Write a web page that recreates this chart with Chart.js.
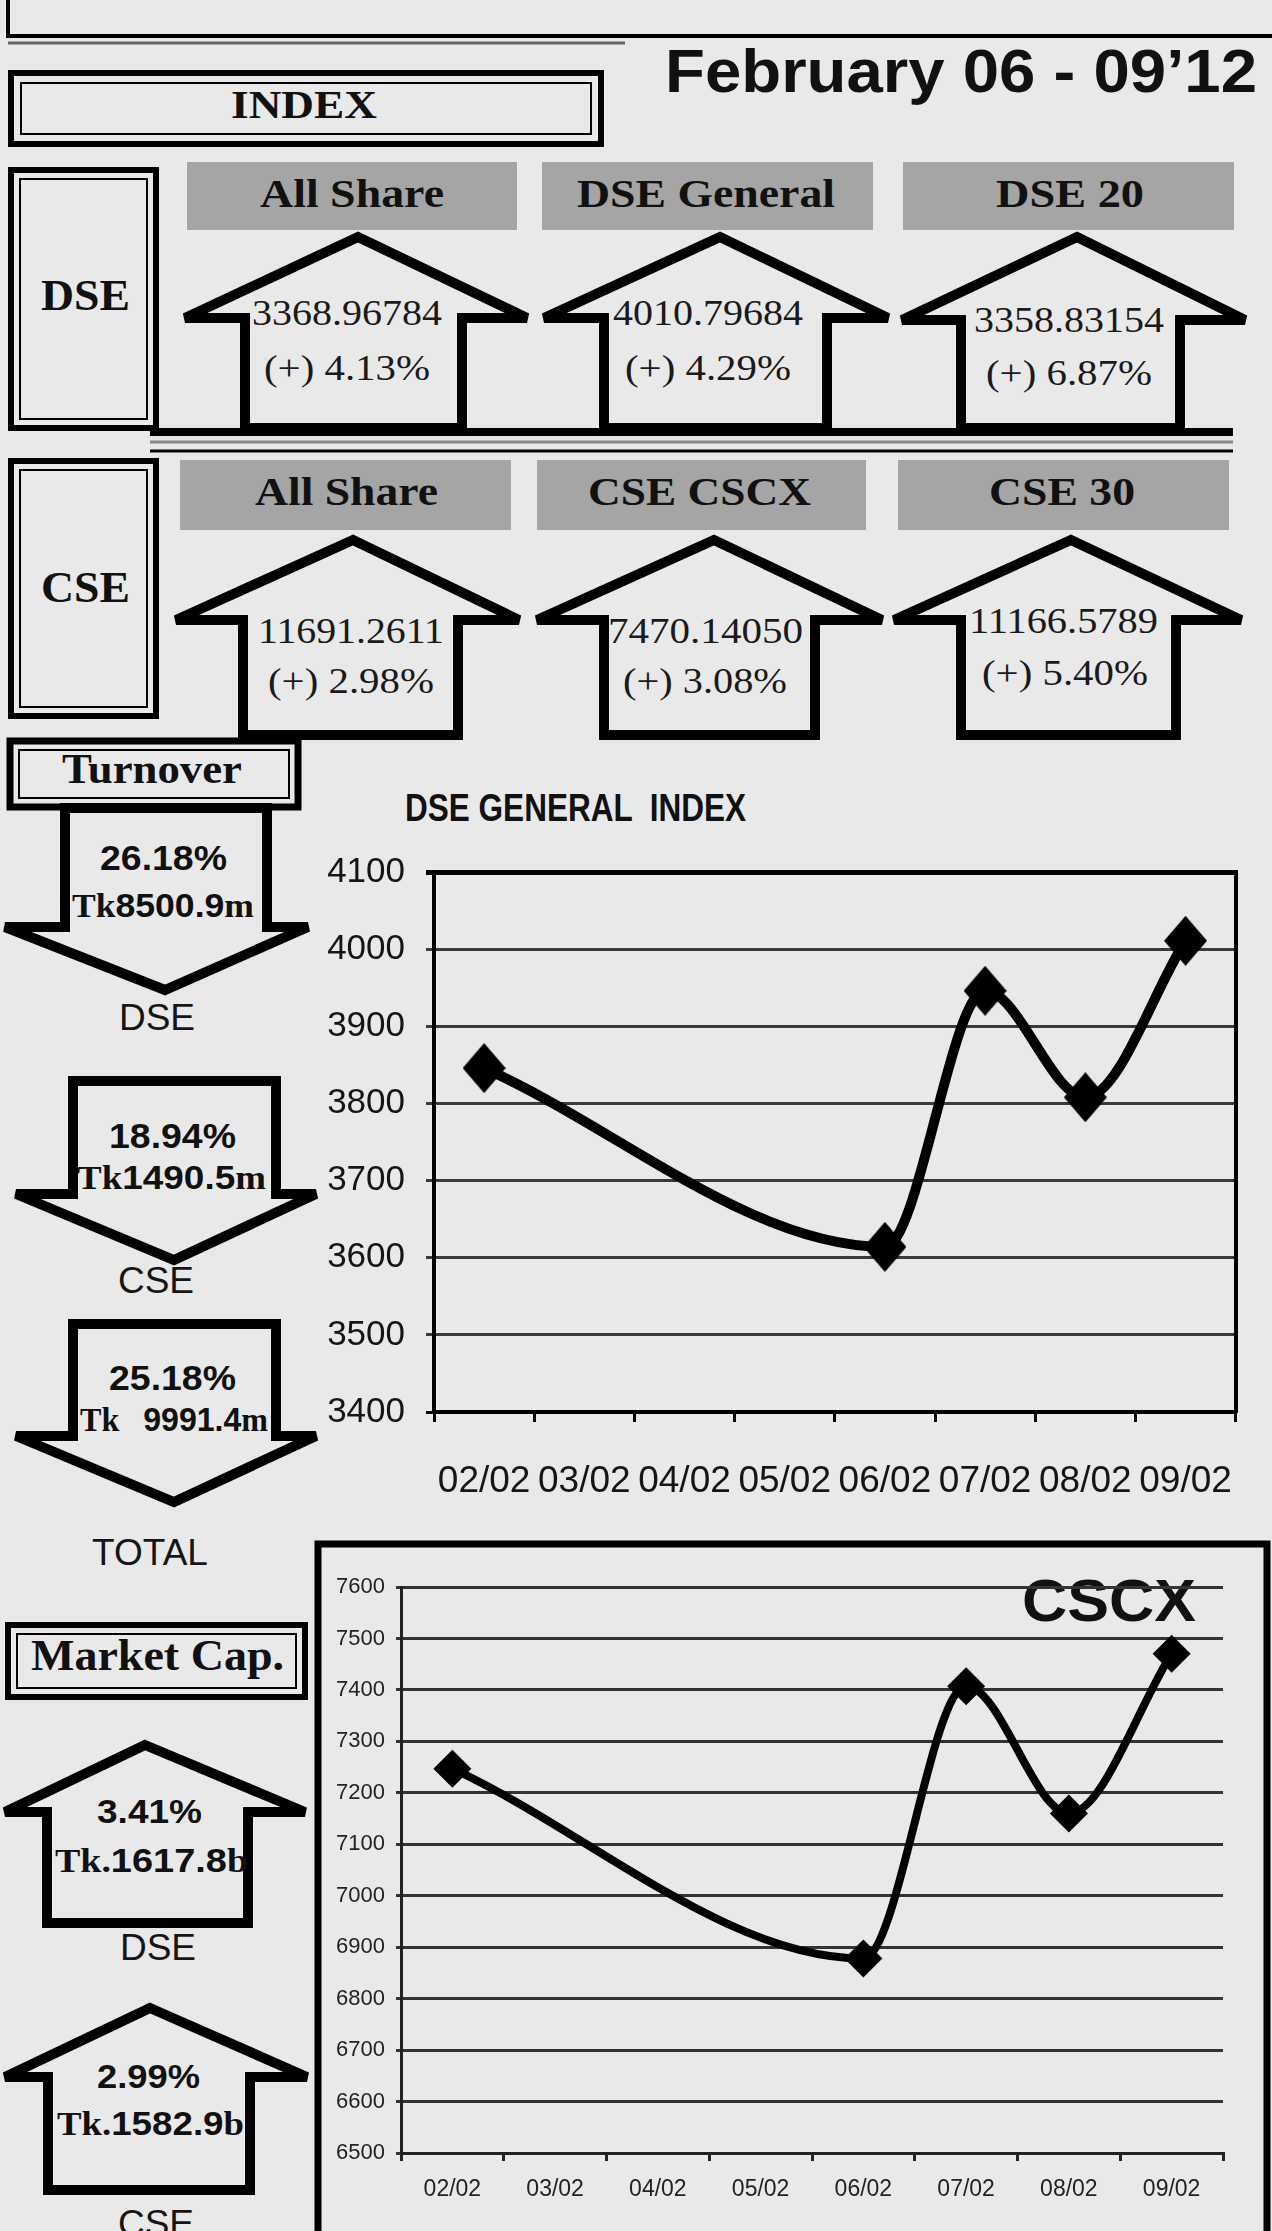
<!DOCTYPE html>
<html>
<head>
<meta charset="utf-8">
<script src="https://cdn.jsdelivr.net/npm/chart.js@4.4.1/dist/chart.umd.min.js"></script>
<style>
  html, body { margin: 0; padding: 0; background: #e9e9e9; }
  #page { position: relative; width: 1272px; height: 2231px; overflow: hidden; background: #e9e9e9; }
  svg { position: absolute; left: 0; top: 0; }
  .tb { font-family: 'Liberation Serif', 'Times New Roman', serif; font-weight: bold; fill: #111; }
  .tr { font-family: 'Liberation Serif', 'Times New Roman', serif; fill: #1a1a1a; }
  .sb { font-family: 'Liberation Sans', Arial, sans-serif; font-weight: bold; fill: #111; }
  .sr { font-family: 'Liberation Sans', Arial, sans-serif; fill: #151515; }
  .pre { white-space: pre; }
  #dseBox { position: absolute; left: 300px; top: 830px; }
  #cscxBox { position: absolute; left: 322px; top: 1550px; }
</style>
</head>
<body>
<div id="page">
<svg width="1272" height="2231">
  <g fill="none" stroke="#000">
    <!-- top frame -->
    <path d="M8,-10 V36 H1290" stroke-width="4"/>
    <path d="M8,43 H625" stroke-width="3" stroke="#666"/>
    <!-- INDEX box -->
    <rect x="11" y="73" width="590" height="71" stroke-width="6"/>
    <rect x="21" y="83" width="570" height="51" stroke-width="2"/>
    <!-- DSE / CSE boxes -->
    <rect x="11" y="170" width="145" height="258" stroke-width="6"/>
    <rect x="20" y="179" width="127" height="240" stroke-width="2"/>
    <rect x="11" y="461" width="145" height="255" stroke-width="6"/>
    <rect x="20" y="470" width="127" height="237" stroke-width="2"/>
    <!-- separator between DSE and CSE rows -->
    <path d="M150,432 H1233" stroke-width="8"/>
    <path d="M150,442 H1233" stroke-width="3" stroke="#888"/>
    <path d="M150,451 H1233" stroke-width="3"/>
    <!-- Turnover box -->
    <rect x="10" y="741" width="288" height="66" stroke-width="7"/>
    <rect x="19" y="750" width="270" height="48" stroke-width="2"/>
    <!-- Market Cap box -->
    <rect x="8" y="1625" width="297" height="72" stroke-width="6"/>
    <rect x="17" y="1634" width="279" height="54" stroke-width="2"/>
    <!-- CSCX frame -->
    <path d="M318,2250 V1544 H1267 V2250" stroke-width="7"/>
  </g>
  <g fill="#a5a5a5">
    <rect x="187" y="162" width="330" height="68"/>
    <rect x="542" y="162" width="331" height="68"/>
    <rect x="903" y="162" width="331" height="68"/>
    <rect x="180" y="460" width="331" height="70"/>
    <rect x="537" y="460" width="329" height="70"/>
    <rect x="898" y="460" width="331" height="70"/>
  </g>
  <g id="arrows" fill="none" stroke="#000" stroke-width="10" stroke-linejoin="miter" stroke-miterlimit="2"></g>

  <text x="665" y="92" class="sb" font-size="62" textLength="592" lengthAdjust="spacingAndGlyphs">February 06 - 09’12</text>
  <text x="231" y="118" class="tb" font-size="41" textLength="146" lengthAdjust="spacingAndGlyphs">INDEX</text>
  <text x="41" y="310" class="tb" font-size="45" textLength="89" lengthAdjust="spacingAndGlyphs">DSE</text>
  <text x="41" y="602" class="tb" font-size="45" textLength="89" lengthAdjust="spacingAndGlyphs">CSE</text>

  <text x="260" y="207" class="tb" font-size="41" textLength="184" lengthAdjust="spacingAndGlyphs">All Share</text>
  <text x="577" y="207" class="tb" font-size="41" textLength="258" lengthAdjust="spacingAndGlyphs">DSE General</text>
  <text x="996" y="207" class="tb" font-size="41" textLength="148" lengthAdjust="spacingAndGlyphs">DSE 20</text>
  <text x="255" y="505" class="tb" font-size="41" textLength="183" lengthAdjust="spacingAndGlyphs">All Share</text>
  <text x="588" y="505" class="tb" font-size="41" textLength="223" lengthAdjust="spacingAndGlyphs">CSE CSCX</text>
  <text x="989" y="505" class="tb" font-size="41" textLength="146" lengthAdjust="spacingAndGlyphs">CSE 30</text>

  <text x="252" y="325" class="tr" font-size="36" textLength="190" lengthAdjust="spacingAndGlyphs">3368.96784</text>
  <text x="264" y="380" class="tr" font-size="36" textLength="166" lengthAdjust="spacingAndGlyphs">(+) 4.13%</text>
  <text x="613" y="325" class="tr" font-size="36" textLength="190" lengthAdjust="spacingAndGlyphs">4010.79684</text>
  <text x="625" y="380" class="tr" font-size="36" textLength="166" lengthAdjust="spacingAndGlyphs">(+) 4.29%</text>
  <text x="974" y="332" class="tr" font-size="36" textLength="190" lengthAdjust="spacingAndGlyphs">3358.83154</text>
  <text x="986" y="385" class="tr" font-size="36" textLength="166" lengthAdjust="spacingAndGlyphs">(+) 6.87%</text>

  <text x="258" y="643" class="tr" font-size="36" textLength="186" lengthAdjust="spacingAndGlyphs">11691.2611</text>
  <text x="268" y="693" class="tr" font-size="36" textLength="166" lengthAdjust="spacingAndGlyphs">(+) 2.98%</text>
  <text x="608" y="643" class="tr" font-size="36" textLength="195" lengthAdjust="spacingAndGlyphs">7470.14050</text>
  <text x="623" y="693" class="tr" font-size="36" textLength="164" lengthAdjust="spacingAndGlyphs">(+) 3.08%</text>
  <text x="969" y="633" class="tr" font-size="36" textLength="189" lengthAdjust="spacingAndGlyphs">11166.5789</text>
  <text x="982" y="685" class="tr" font-size="36" textLength="166" lengthAdjust="spacingAndGlyphs">(+) 5.40%</text>

  <text x="62" y="783" class="tb" font-size="43" textLength="180" lengthAdjust="spacingAndGlyphs">Turnover</text>
  <text x="100" y="870" class="sb" font-size="35" textLength="127" lengthAdjust="spacingAndGlyphs">26.18%</text>
  <text x="72" y="917" font-size="33" textLength="182" lengthAdjust="spacingAndGlyphs"><tspan class="tb">Tk</tspan><tspan class="sb">8500.9</tspan><tspan class="tb">m</tspan></text>
  <text x="157" y="1030" class="sr" font-size="37" text-anchor="middle">DSE</text>

  <text x="109" y="1148" class="sb" font-size="35" textLength="127" lengthAdjust="spacingAndGlyphs">18.94%</text>
  <text x="77" y="1189" font-size="33" textLength="189" lengthAdjust="spacingAndGlyphs"><tspan class="tb">Tk</tspan><tspan class="sb">1490.5</tspan><tspan class="tb">m</tspan></text>
  <text x="156" y="1293" class="sr" font-size="37" text-anchor="middle">CSE</text>

  <text x="109" y="1390" class="sb" font-size="35" textLength="127" lengthAdjust="spacingAndGlyphs">25.18%</text>
  <text x="80" y="1431" font-size="33" textLength="188" lengthAdjust="spacingAndGlyphs" class="pre"><tspan class="tb">Tk   </tspan><tspan class="sb">9991.4</tspan><tspan class="tb">m</tspan></text>
  <text x="150" y="1565" class="sr" font-size="37" text-anchor="middle">TOTAL</text>

  <text x="31" y="1670" class="tb" font-size="44" textLength="253" lengthAdjust="spacingAndGlyphs">Market Cap.</text>
  <text x="97" y="1823" class="sb" font-size="33" textLength="105" lengthAdjust="spacingAndGlyphs">3.41%</text>
  <text x="55" y="1872" font-size="33" textLength="193" lengthAdjust="spacingAndGlyphs"><tspan class="tb">Tk.</tspan><tspan class="sb">1617.8</tspan><tspan class="tb">b</tspan></text>
  <text x="158" y="1960" class="sr" font-size="37" text-anchor="middle">DSE</text>
  <text x="97" y="2088" class="sb" font-size="33" textLength="103" lengthAdjust="spacingAndGlyphs">2.99%</text>
  <text x="57" y="2135" font-size="33" textLength="187" lengthAdjust="spacingAndGlyphs"><tspan class="tb">Tk.</tspan><tspan class="sb">1582.9</tspan><tspan class="tb">b</tspan></text>
  <text x="156" y="2236" class="sr" font-size="37" text-anchor="middle">CSE</text>

  <text x="405" y="821" class="sb pre" font-size="39" textLength="341" lengthAdjust="spacingAndGlyphs">DSE GENERAL  INDEX</text>
  <text x="1022" y="1621" class="sb" font-size="60" textLength="174" lengthAdjust="spacingAndGlyphs">CSCX</text>
</svg>
<div id="dseBox"><canvas id="dse" width="972" height="700"></canvas></div>
<div id="cscxBox"><canvas id="cscx" width="940" height="681"></canvas></div>
</div>
<script>
// chart data
const dates = ['02/02', '03/02', '04/02', '05/02', '06/02', '07/02', '08/02', '09/02'];
const dseGeneral = [3845.8, null, null, null, 3614, 3946, 3808, 4010.8];
const cscxIndex = [7246.9, null, null, null, 6878, 7407, 7160, 7470.1];
const dseRange = [3400, 4100];
const cscxRange = [6500, 7600];

// arrow outlines for the side panels
const upArrows = [
  // apexX, apexY, leftTip, shaftL, shaftR, rightTip, wingY, bottom
  [358, 237, 185, 245, 462, 527, 318, 428],
  [720, 237, 544, 604, 827, 888, 318, 428],
  [1077, 237, 902, 961, 1180, 1245, 320, 428],
  [353, 540, 176, 243, 458, 519, 620, 735],
  [714, 540, 537, 604, 815, 882, 620, 735],
  [1071, 540, 894, 961, 1176, 1241, 620, 735],
  [145, 1745, 5, 47, 248, 305, 1812, 1923],
  [150, 2008, 5, 48, 250, 307, 2077, 2190]
];
const downArrows = [
  // shaftL, shaftR, top, wingY, leftTip, rightTip, pointX, pointY
  [65, 267, 808, 927, 5, 308, 165, 990],
  [73, 276, 1081, 1194, 16, 316, 174, 1260],
  [73, 276, 1324, 1436, 16, 316, 174, 1502]
];

const g = document.getElementById('arrows');
function addPoly(pts) {
  const p = document.createElementNS('http://www.w3.org/2000/svg', 'polygon');
  p.setAttribute('points', pts.map(q => q.join(',')).join(' '));
  g.appendChild(p);
}
upArrows.forEach(([ax, ay, lx, sl, sr, rx, wy, by]) => {
  addPoly([[ax, ay], [rx, wy], [sr, wy], [sr, by], [sl, by], [sl, wy], [lx, wy]]);
});
downArrows.forEach(([sl, sr, ty, wy, lx, rx, px, py]) => {
  addPoly([[sl, ty], [sr, ty], [sr, wy], [rx, wy], [px, py], [lx, wy], [sl, wy]]);
});

function diamond(w, h) {
  const c = document.createElement('canvas');
  c.width = w; c.height = h;
  const x = c.getContext('2d');
  x.beginPath();
  x.moveTo(w / 2, 0); x.lineTo(w, h / 2); x.lineTo(w / 2, h); x.lineTo(0, h / 2);
  x.closePath();
  x.fillStyle = '#000';
  x.fill();
  return c;
}

Chart.defaults.font.family = "'Liberation Sans', Arial, sans-serif";
Chart.defaults.color = '#151515';

const plain = v => String(v);

new Chart(document.getElementById('dse'), {
  type: 'line',
  data: {
    labels: dates,
    datasets: [{
      data: dseGeneral,
      borderColor: '#000',
      borderWidth: 10,
      cubicInterpolationMode: 'monotone',
      spanGaps: true,
      pointStyle: diamond(43, 50),
      pointRadius: 25,
      pointBackgroundColor: '#000'
    }]
  },
  options: {
    responsive: false,
    animation: false,
    layout: { padding: { top: 24, left: 0, right: 0, bottom: 0 } },
    plugins: { legend: { display: false }, tooltip: { enabled: false } },
    scales: {
      x: {
        offset: true,
        grid: { offset: true, drawOnChartArea: false, tickLength: 10, color: '#000', lineWidth: 3 },
        border: { color: '#000', width: 4 },
        ticks: { font: { size: 37 }, padding: 38, maxRotation: 0, autoSkip: false, color: '#151515' },
        afterFit: axis => { axis.height = 118; }
      },
      y: {
        min: dseRange[0], max: dseRange[1],
        ticks: { stepSize: 100, font: { size: 35 }, padding: 21, callback: plain, color: '#151515' },
        grid: {
          tickLength: 8,
          color: c => (c.tick && (c.tick.value === 4100 || c.tick.value === 3400)) ? '#000' : '#3a3a3a',
          lineWidth: c => (c.tick && c.tick.value === 4100) ? 5 : 3
        },
        border: { color: '#000', width: 4 },
        afterFit: axis => { axis.width = 134; }
      },
      y2: {
        position: 'right',
        min: dseRange[0], max: dseRange[1],
        ticks: { display: false },
        grid: { drawOnChartArea: false, drawTicks: false },
        border: { color: '#000', width: 4 },
        afterFit: axis => { axis.width = 14; }
      }
    }
  }
});

new Chart(document.getElementById('cscx'), {
  type: 'line',
  data: {
    labels: dates,
    datasets: [{
      data: cscxIndex,
      borderColor: '#000',
      borderWidth: 8,
      cubicInterpolationMode: 'monotone',
      spanGaps: true,
      pointStyle: 'rectRot',
      pointRadius: 19,
      pointBorderWidth: 0,
      pointBackgroundColor: '#000'
    }]
  },
  options: {
    responsive: false,
    animation: false,
    layout: { padding: { top: 37, left: 0, right: 39, bottom: 0 } },
    plugins: { legend: { display: false }, tooltip: { enabled: false } },
    scales: {
      x: {
        offset: true,
        grid: { offset: true, drawOnChartArea: false, tickLength: 8, color: '#222', lineWidth: 3 },
        border: { color: '#222', width: 3 },
        ticks: { font: { size: 23 }, padding: 15, maxRotation: 0, autoSkip: false, color: '#222' },
        afterFit: axis => { axis.height = 78; }
      },
      y: {
        min: cscxRange[0], max: cscxRange[1],
        ticks: { stepSize: 100, font: { size: 22 }, padding: 11, callback: plain, color: '#222' },
        grid: { tickLength: 5, color: '#333', lineWidth: 3 },
        border: { color: '#222', width: 3 },
        afterFit: axis => { axis.width = 79; }
      }
    }
  }
});
</script>
</body>
</html>
